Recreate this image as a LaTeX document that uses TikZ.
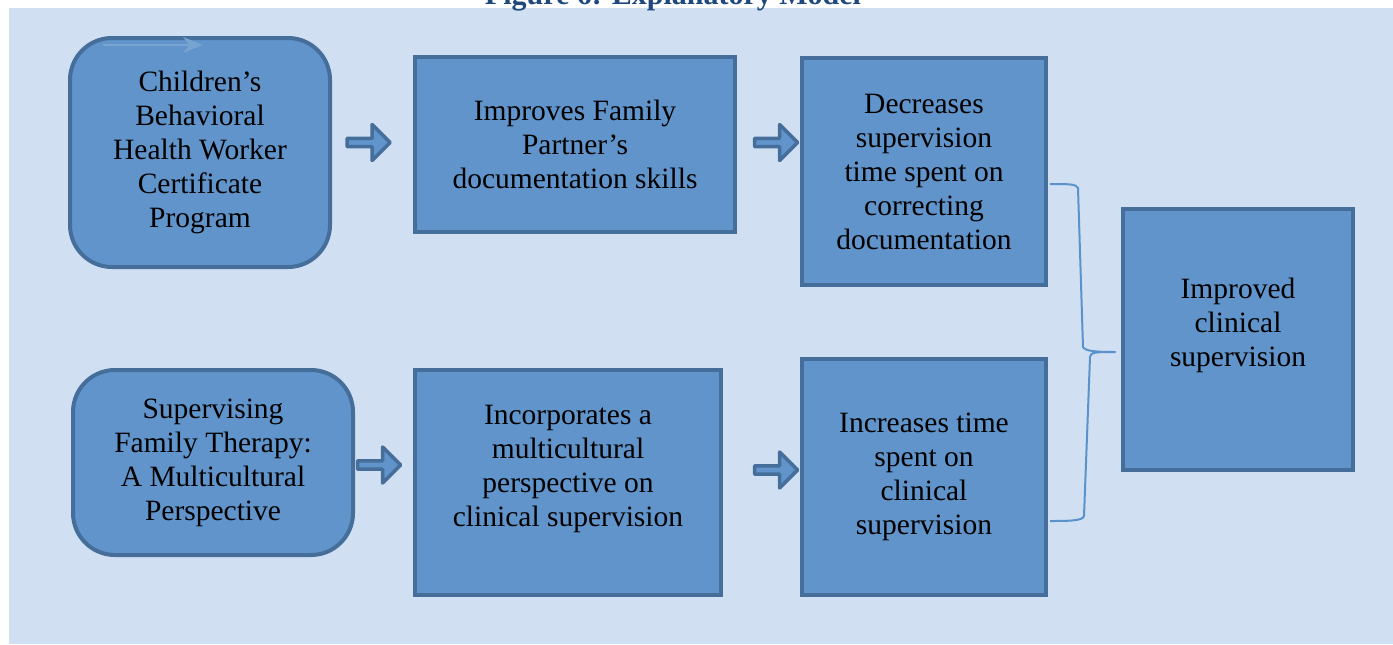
\documentclass[tikz,border=0pt]{standalone}
\usepackage{fontspec}
\setmainfont{Liberation Serif}
\usetikzlibrary{shapes.arrows,arrows.meta}

\definecolor{panelblue}{RGB}{208,224,242}
\definecolor{boxfill}{RGB}{96,148,202}
\definecolor{boxline}{RGB}{70,110,155}
\definecolor{bracecol}{RGB}{91,146,204}
\definecolor{titleblue}{RGB}{31,73,125}

\begin{document}
\begin{tikzpicture}[x=1pt,y=-1pt,
    box/.style={draw=boxline, fill=boxfill, line width=4pt, align=center,
      inner sep=0pt, font=\fontsize{29.5}{34}\selectfont},
    roundbox/.style={box, rounded corners=42pt},
    blockarrow/.style={single arrow, draw=boxline, fill=boxfill, line width=3.5pt,
      line join=round, inner sep=0pt, minimum height=43pt, minimum width=36pt,
      single arrow head extend=6pt}]
  \clip (0,0) rectangle (1393,645);

  % Background panel and heading
  \fill[panelblue] (9,8) rectangle (1393,644);
  \node[anchor=base, text=titleblue, font=\bfseries\fontsize{30}{34}\selectfont]
    (title) at (673,5) {Figure 6: Explanatory Model};

  % Upper row
  \node[roundbox, minimum width=260pt, minimum height=229pt] (b1) at (200,152.5)
    {Children’s\\Behavioral\\Health Worker\\Certificate\\Program};
  \draw[draw=boxfill!85!white, line width=1.5pt, -{Stealth[length=20pt,width=16pt]}]
    (103,45) -- (203,45);
  \node[box, minimum width=320pt, minimum height=175pt] (b2) at (575,144.5)
    {Improves Family\\Partner’s\\documentation skills};
  \node[box, minimum width=244pt, minimum height=227pt] (b3) at (924,171.5)
    {Decreases\\supervision\\time spent on\\correcting\\documentation};

  % Lower row
  \node[roundbox, minimum width=280pt, minimum height=185pt] (b4) at (213,462.5)
    {Supervising\\Family Therapy:\\A Multicultural\\Perspective};
  \node[box, minimum width=306pt, minimum height=225pt] (b5) at (568,482.5)
    {Incorporates a\\multicultural\\perspective on\\clinical supervision\\~};
  \node[box, minimum width=244pt, minimum height=236pt] (b6) at (924,477)
    {Increases time\\spent on\\clinical\\supervision};

  % Outcome
  \node[box, minimum width=230pt, minimum height=261pt] (b7) at (1238,339.5)
    {Improved\\clinical\\supervision\\~};

  % Block arrows
  \node[blockarrow] (a1) at (366.5,142.5) {};
  \node[blockarrow] (a2) at (774,142.5) {};
  \node[blockarrow] (a3) at (377,465) {};
  \node[blockarrow] (a4) at (774,470) {};

  % Brace joining the two results
  \coordinate (brtop) at (1050,184);
  \coordinate (brbot) at (1050,521);
  \coordinate (brtip) at (1115,352);
  \draw[bracecol, line width=2pt, line join=round]
    (brtop) .. controls (1068,184) and (1077,184) .. (1078,188) -- (1083,347)
    .. controls (1085,351) and (1095,352) .. (brtip)
    .. controls (1097,352) and (1090,352) .. (1090,357) -- (1084,516)
    .. controls (1083,521) and (1068,521) .. (brbot);
\end{tikzpicture}
\end{document}
